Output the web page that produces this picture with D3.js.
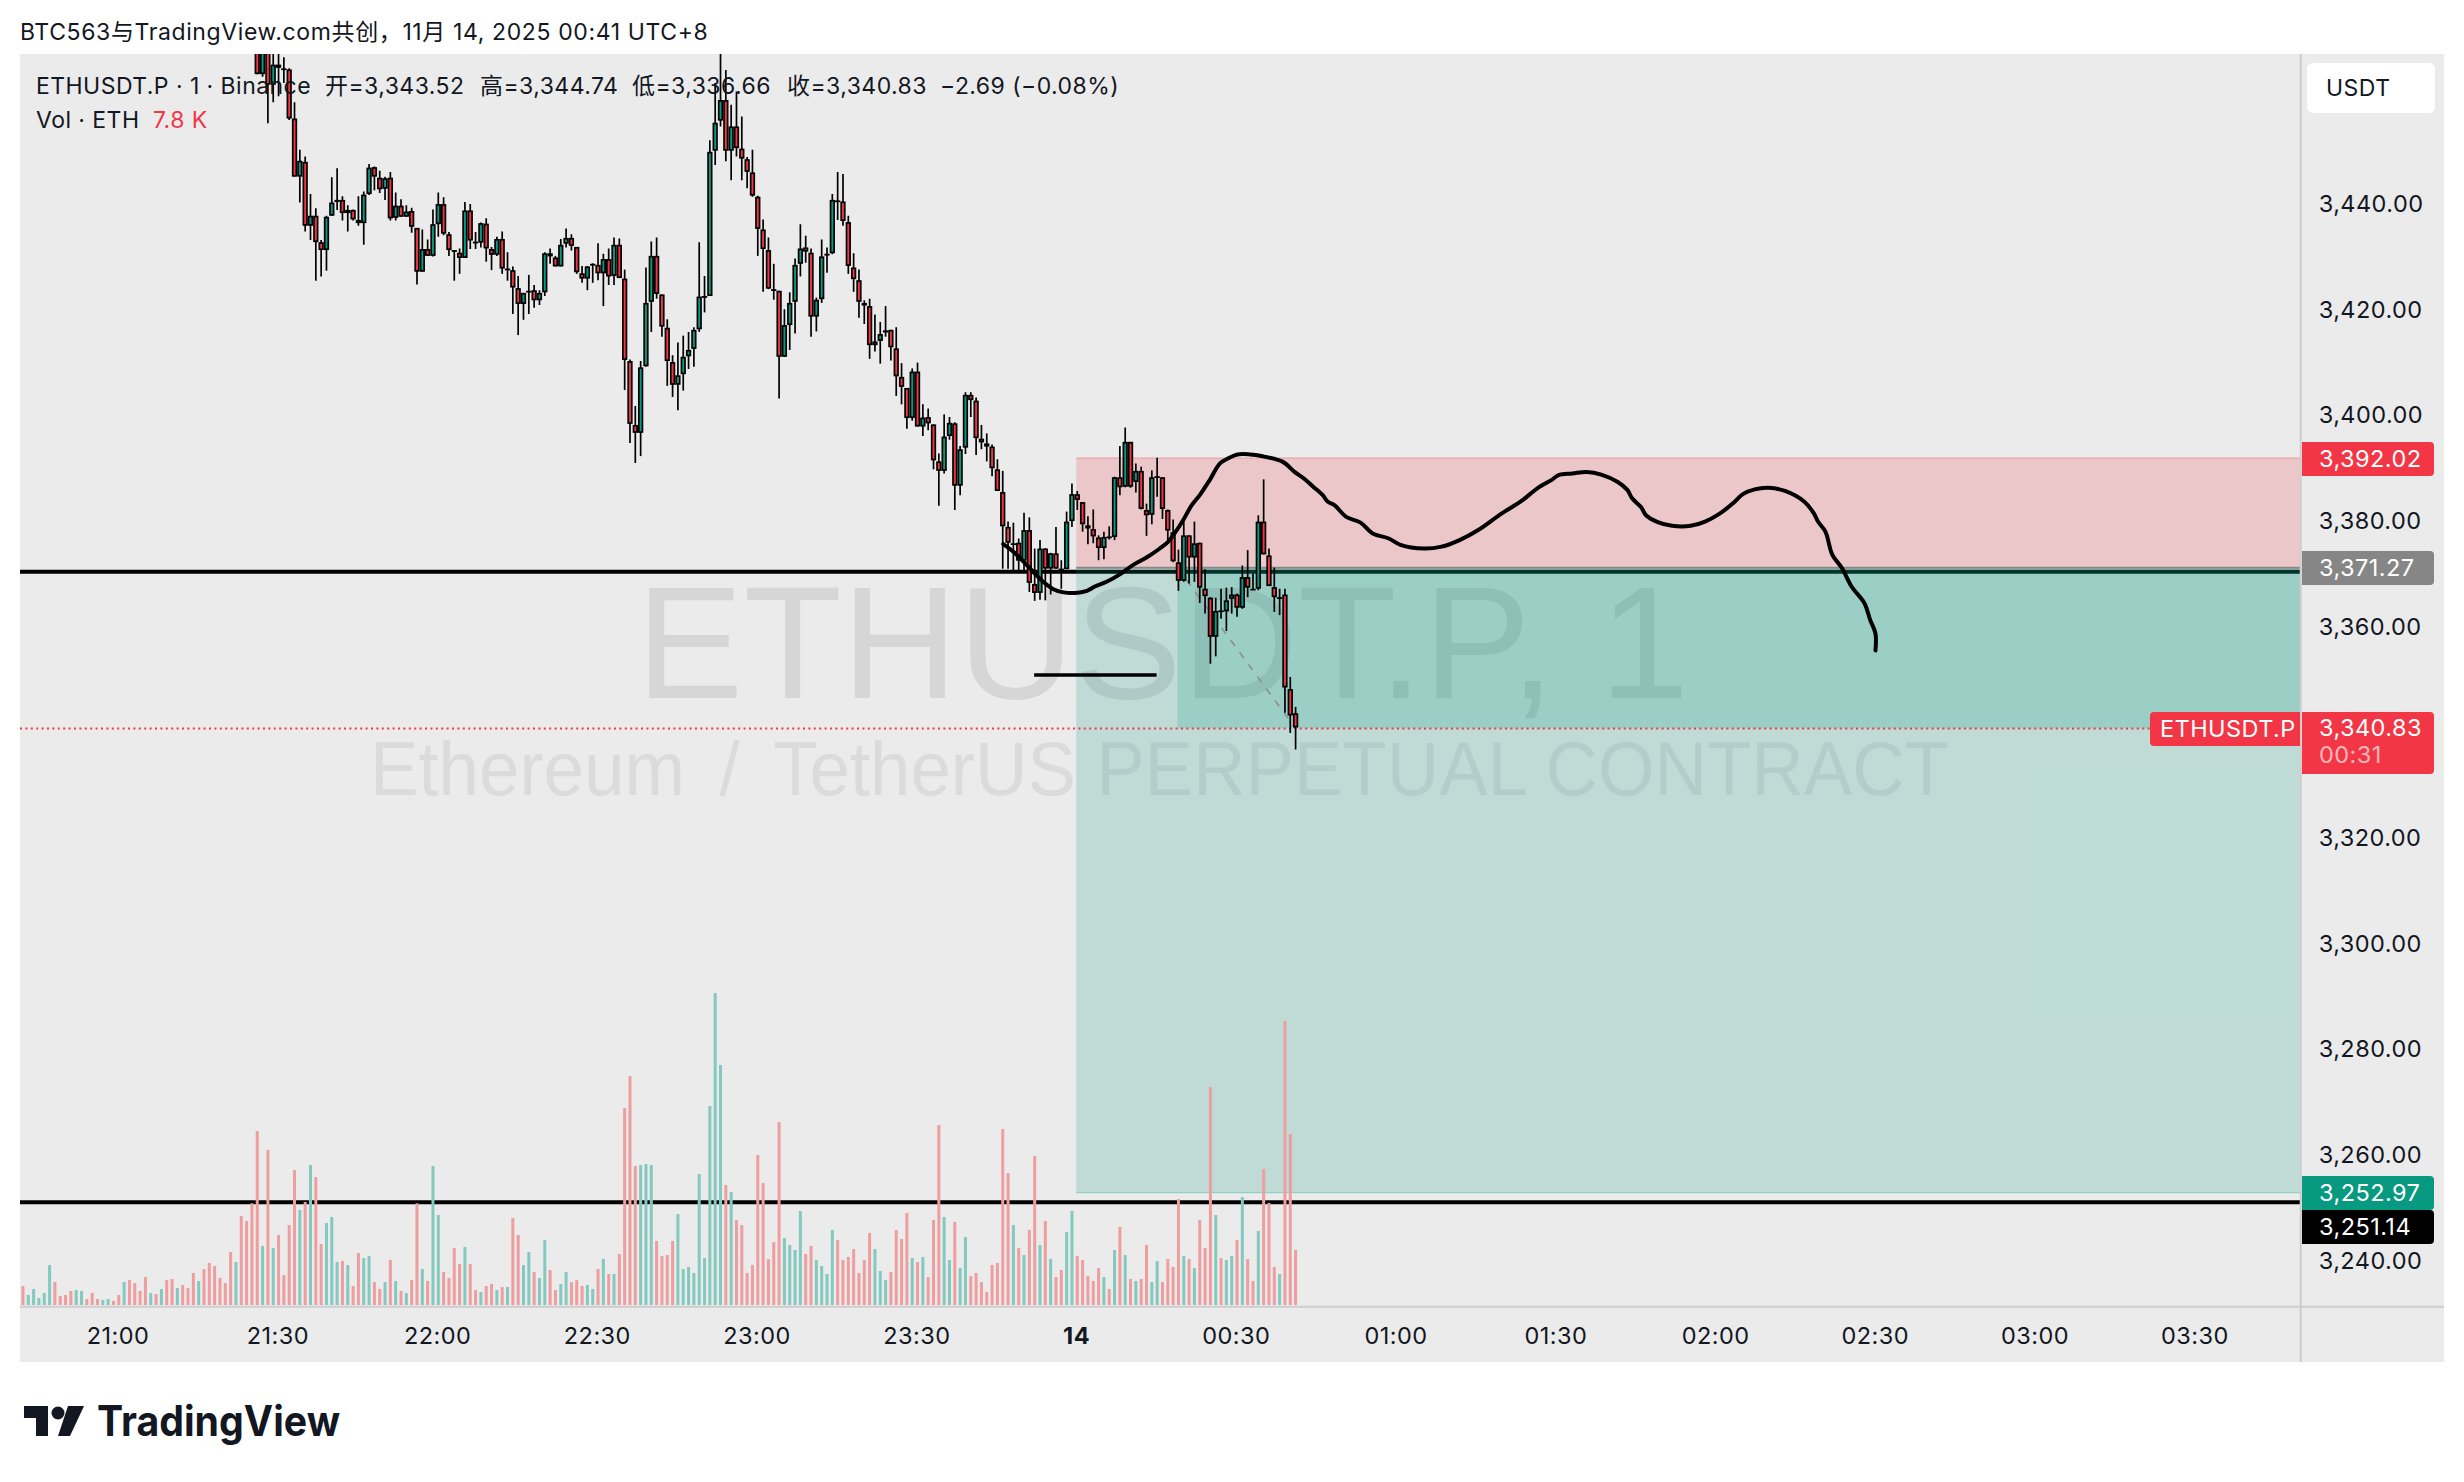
<!DOCTYPE html>
<html>
<head>
<meta charset="utf-8">
<script src="https://cdn.jsdelivr.net/npm/d3@7"></script>
<style>
  body { margin: 0; background: #fff; }
  text { font-family: Inter, "Noto Sans CJK SC", sans-serif; letter-spacing: 0.45px; }
</style>
</head>
<body>
<div id="drawing"></div>
<script>
const width = 2464;
const height = 1482;

// candles, one per minute, first one is 21:26
const candleStartMinute = 26; // minutes after 21:00
const opens = [
  3472,3464.5,3471,3462.5,3466.3,3465.6,3465.4,3456.1,3445.1,3447.9,
  3435.8,3437.7,3432.7,3431.2,3437.7,3440.3,3440.7,3438.2,3438.8,3436.9,
  3436.3,3441.8,3446.9,3444.9,3442.8,3444.9,3437.3,3439.6,3437.5,3438.6,
  3435.4,3427.1,3431.4,3430.1,3436.1,3439.9,3434.2,3431.2,3430.7,3429.7,
  3438.7,3432.8,3432.6,3436.2,3431.4,3430.3,3433.3,3427.7,3427.4,3424,
  3421,3423.5,3423.6,3421.7,3423.2,3430.6,3429.8,3428.1,3432.4,3433.5,
  3431.8,3426.8,3425.8,3428.6,3428.4,3426.8,3429.5,3426.3,3432.2,3425.8,
  3410.2,3398.1,3396.6,3409.2,3421.4,3430.1,3422.8,3416.5,3410,3405.7,
  3407.7,3411.1,3412.5,3416.2,3422.5,3422.5,3450,3455.7,3459.6,3450,
  3454.6,3450.4,3448.4,3445.9,3441.3,3435.1,3431.2,3423.8,3423.5,3411,
  3417,3421.4,3428.6,3431.7,3430.7,3418.6,3421.9,3430.5,3430.6,3440.6,
  3440.4,3436.5,3427.9,3425.5,3421.2,3420.6,3413.2,3414,3415.6,3416.1,
  3412.6,3407.2,3405.1,3399.4,3408.2,3397.8,3399.6,3398.2,3391.2,3389.4,
  3396,3398.4,3386.6,3393.8,3403.8,3402.7,3395.5,3394.6,3394,3389.7,
  3385.4,3378.8,3375.7,3375.8,3372.4,3378.2,3368,3366.3,3374.7,3370.9,
  3373.8,3370.9,3370.8,3379.9,3385,3383.5,3379.1,3378.4,3376.8,3374.8,
  3377,3376.9,3388.2,3386.4,3394.9,3387.3,3389.4,3382,3381.1,3388.4,
  3388.2,3382,3377.8,3372.1,3368.6,3377.2,3373,3375.8,3367.1,3365.4,
  3358,3363,3362.8,3365.2,3366,3363.5,3369.3,3367.1,3367.1,3379.8,
  3373.4,3367.4,3365.5,3366,3348.1,3343.52
];
const highs = [
  3474,3473,3473,3473,3472,3467.7,3465.6,3459.2,3450.2,3448.9,
  3441.8,3439.1,3433.1,3437.7,3445,3446.7,3441.4,3439.7,3438.9,3441.4,
  3442.3,3447.5,3447,3446.2,3445.1,3446,3442.1,3440.8,3439.7,3439.2,
  3435.4,3435.1,3433.2,3438.9,3442.1,3441.2,3434.6,3431.2,3431.5,3440.3,
  3439.9,3434.6,3436.4,3437.2,3431.8,3433.7,3434.7,3430.8,3428.1,3426.3,
  3423.1,3426.5,3424.6,3423.6,3430.8,3431.5,3430.1,3433.3,3435.3,3434.2,
  3431.8,3428.2,3428.2,3428.7,3432.5,3430.5,3431.5,3433.6,3433.4,3427.5,
  3410.5,3401.7,3410.2,3427.9,3432.8,3433.6,3422.8,3418.1,3411.3,3413.7,
  3415,3415.7,3416.6,3432.7,3426.3,3452,3462.8,3469,3465.3,3458.7,
  3461.2,3456.5,3448.8,3450.2,3441.5,3437,3433.6,3428.6,3423.5,3420,
  3423.2,3429.6,3436.1,3433.9,3431.5,3422.2,3433.2,3431.7,3441.8,3446,
  3445.6,3437.7,3430.6,3427.5,3421.7,3422,3419,3417.6,3420.6,3416.1,
  3416.6,3409.8,3405.1,3408.8,3409.9,3402,3401.2,3398.2,3392.7,3400.1,
  3399.6,3398.6,3394.1,3404.3,3404.3,3403.3,3398.1,3396.5,3394.4,3391.6,
  3389.4,3379.8,3379.6,3376.6,3381.5,3380.6,3374.7,3376.3,3374.8,3373.9,
  3378.8,3372.5,3381.7,3387,3385.6,3383.5,3380.8,3382.1,3377.2,3377.9,
  3378.9,3388.3,3394.1,3397.6,3394.9,3390.8,3390.2,3383.2,3389.5,3391.9,
  3388.2,3382.1,3380.2,3374.5,3379.8,3377.2,3379.8,3375.8,3370.8,3365.5,
  3365.4,3367.1,3367.3,3367.4,3366.2,3371.5,3374.4,3370,3381,3387.8,
  3374.7,3371.1,3367.1,3367.1,3350.4,3344.74
];
const lows = [
  3464.5,3464,3455.2,3459.2,3460.3,3462.8,3455.8,3445.1,3440.2,3434.7,
  3433.1,3425.4,3426.2,3427.3,3437.7,3438.8,3436.8,3434.7,3436.8,3435.8,
  3432.2,3441.6,3442.5,3442,3440.7,3436.8,3436.8,3437.5,3437.5,3434.5,
  3424.7,3427.1,3430.1,3430,3433.7,3434,3430.1,3425.4,3426.7,3429.7,
  3431.4,3431.4,3431.7,3429,3427.4,3430.1,3426.7,3425.4,3419.1,3415.1,
  3418,3419.1,3420.3,3420.8,3422.5,3428.6,3428.1,3428.1,3431.7,3431.1,
  3426.7,3425,3423.6,3425,3425.5,3420.6,3424.6,3424.6,3425.9,3404.7,
  3394.7,3390.9,3392.2,3409.1,3415.7,3422,3414.8,3405.5,3403.4,3400.9,
  3404.6,3408.7,3409.1,3415.7,3419.4,3422.5,3447.3,3454.6,3448,3444.4,
  3448.9,3444.4,3442.9,3441.3,3430.1,3423.3,3423.8,3421.8,3403.1,3411,
  3412.3,3415.4,3426.2,3428.8,3414.8,3415.8,3421.2,3426.9,3430.4,3436.9,
  3435.8,3426.7,3423.3,3418.4,3417.2,3410.6,3412,3409.7,3414.8,3410.3,
  3403.6,3402,3397.4,3398.9,3397.8,3396,3397.1,3389.7,3382.8,3388.9,
  3395.3,3382,3384.8,3392.6,3399.6,3392.4,3393.5,3391.2,3388.4,3385.6,
  3370.9,3370.9,3370.6,3370.5,3370.6,3366.5,3364.8,3365,3364.9,3366,
  3370.9,3367.1,3370.8,3378.8,3382,3377.9,3375.5,3375.7,3372.5,3372.7,
  3376.4,3376.3,3384.8,3386.3,3386.2,3385.3,3382.1,3377.1,3379.3,3384.5,
  3380.3,3376,3372.1,3366.7,3368.4,3368.1,3368.4,3364.4,3362.4,3352.9,
  3354.3,3361.4,3359.1,3362.4,3361.8,3363.3,3365.5,3366.9,3366.8,3373.6,
  3367.6,3362.7,3362.1,3343.6,3339.8,3336.66
];
const closes = [
  3464.5,3471,3462.5,3466.3,3465.7,3465.5,3456.1,3445.1,3448.1,3435.8,
  3437.7,3432.7,3431.2,3437.5,3440.2,3440.7,3438.2,3438.8,3437,3436.3,
  3441.7,3446.8,3445.1,3442.7,3444.8,3437.2,3439.6,3437.5,3438.5,3435.6,
  3427.1,3431.4,3430.1,3436.1,3439.9,3434.3,3431.2,3431.1,3429.7,3438.7,
  3433,3432.7,3436.3,3431.5,3430.3,3433.3,3427.7,3427.6,3424.1,3421,
  3423.1,3423.5,3421.7,3423.1,3430.6,3430,3428.1,3432.2,3433.5,3432,
  3427,3425.8,3428.1,3428.5,3426.8,3429.5,3426.2,3432.2,3425.9,3410.4,
  3398.3,3396.6,3409,3421.2,3430.1,3422.9,3416.7,3410.2,3405.7,3407.5,
  3411,3412.3,3416.1,3422.4,3422.5,3449.8,3455.3,3459.6,3450,3454.6,
  3450.5,3448.5,3446,3441.5,3435.2,3431.4,3423.9,3423.7,3411,3417,
  3421.2,3428.4,3431.5,3430.9,3418.6,3421.8,3430,3430.5,3440.7,3440.6,
  3436.7,3428.2,3425.7,3421.4,3420.7,3413.2,3413.9,3415.3,3416,3412.8,
  3407.3,3405.3,3399.4,3408.2,3397.8,3399.5,3398.4,3391.4,3389.4,3395.9,
  3398.5,3386.6,3393.5,3403.8,3402.8,3395.6,3394.8,3394,3389.9,3385.6,
  3378.9,3375.8,3375.6,3372.4,3378.2,3368.2,3366.3,3374.7,3370.9,3373.8,
  3370.9,3370.9,3379.8,3385,3383.9,3379.3,3378.5,3377,3374.8,3376.9,
  3377,3388.2,3386.3,3394.9,3386.4,3389.4,3382.2,3381,3388.2,3388.4,
  3382.2,3378.1,3372.3,3368.6,3377.2,3373,3375.7,3367.3,3365.7,3358,
  3362.9,3363,3364.9,3366,3363.5,3369.3,3367.3,3367.1,3379.8,3373.6,
  3367.6,3365.5,3365.5,3348.4,3343.1,3340.83
];

// volume in thousands of ETH, first bar is 20:42
const volumeStartMinute = -18;
const volumes = [
  2.69,1.42,2.27,0.99,1.70,5.67,3.26,1.28,1.42,1.99,
  2.13,1.99,0.85,1.70,0.85,0.71,0.85,0.57,1.42,3.26,
  3.55,3.12,1.99,3.97,1.70,1.56,2.27,3.55,3.69,2.41,
  2.84,2.41,4.54,3.40,5.10,5.96,5.53,3.83,3.12,7.52,
  6.10,12.62,11.91,14.42,24.67,8.37,21.98,8.08,9.93,4.25,
  11.34,19.14,13.47,14.61,19.85,18.15,8.65,11.63,12.48,6.10,
  6.24,5.67,2.69,7.37,6.66,6.95,3.26,2.27,3.26,6.38,
  3.40,1.99,1.70,3.55,14.42,5.10,3.40,19.71,12.76,4.68,
  3.83,8.08,5.81,8.22,5.81,2.13,1.84,2.69,2.98,2.13,
  2.55,2.55,12.34,9.93,5.67,7.52,4.68,3.83,9.22,4.96,
  2.13,2.98,4.68,3.26,3.55,2.69,2.84,2.27,5.10,6.52,
  4.40,4.40,7.23,27.93,32.47,19.71,19.85,19.99,19.85,9.08,
  6.95,7.09,9.08,12.90,5.10,5.39,4.54,18.58,
  6.66,28.22,44.24,34.03,17.02,16.02,12.05,11.34,4.54,5.67,
  21.27,17.30,6.52,8.93,25.95,9.50,8.51,7.80,13.33,7.23,
  8.37,6.38,5.53,4.40,10.64,9.22,6.38,6.81,7.94,4.54,
  6.38,10.21,7.94,4.82,3.55,4.68,10.64,9.36,13.05,6.66,
  6.10,6.81,3.97,12.05,25.52,12.48,6.38,11.77,5.25,9.64,
  4.11,4.54,3.26,1.84,5.67,5.96,24.96,18.72,11.34,8.08,
  7.09,10.64,21.13,8.51,11.91,6.52,3.97,4.96,10.35,13.33,
  6.95,6.38,4.11,3.40,5.25,3.97,2.27,7.80,11.06,7.09,
  3.69,3.40,3.69,8.51,3.26,6.24,3.26,6.52,5.39,15.03,
  6.95,6.52,5.25,12.05,8.08,30.91,12.76,6.66,6.38,6.95,
  9.22,15.31,6.52,3.40,10.49,19.28,14.46,5.39,4.40,40.27,
  24.25,7.80
];
// r = fell in that minute, g = rose
const volumeSides = (
  "rgggggrrrr" + "ggrrrggrrg" + "rrrrgrgrrg" + "rrrgrrrrrr" +
  "grrrrgrgrr" + "rrgrgrrggg" + "rgrrggrrgr" + "grgrrgrggr" +
  "rrrgrrgrrg" + "rgrrggrggr" + "rggrrrggrg" + "rgrrrrgggr" +
  "rrrggggg" +
  "ggggrgrrrr" + "rrrrrggggr" + "rggggrrrrr" + "rrgggrrrrg" +
  "rgrrrggrgg" + "rrrrrrrrgr" + "grrgrgrrgg" + "rrrrrgrgrg" +
  "rgrrggrrrr" + "grgrrrgrgg" + "rgrrgrrrgr" + "rr"
).split("");

const priceTicks = [3240,3260,3280,3300,3320,3340,3360,3380,3400,3420,3440];
const timeTickMinutes = [0,30,60,90,120,150,180,210,240,270,300,330,360,390];

// position tool and drawn lines
const stopPrice = 3392.02;
const entryPrice = 3371.27;
const lastPrice = 3340.83;
const targetPrice = 3252.97;
const lowerLinePrice = 3251.14;
const upperLinePrice = 3370.5;
const shortLinePrice = 3350.96;
const shortLineMinutes = [171.9, 194.9];
const positionStartMinute = 179.8;
const profitStartMinute = 198.8;
const lastMinute = 221;

const brushMinutes = [166.1,168,169.9,171.7,173.6,175.5,177.4,179.6,181.8,183.3,185.5,188,190.5,193,195.5,197.1,198.3,199.9,201.5,203,204.9,206.8,208.4,210.1,212.4,214.6,218.6,220.8,222.5,224.3,226.1,227,228.3,230.5,233.2,235.4,238.5,240.7,245.1,248.2,251.8,255.3,259.8,263.3,266.4,269.1,270.4,273,275.7,278.4,281.5,283.3,284.2,285.9,286.8,289,291.7,295.2,297.9,300.5,303.2,305,307.2,309.8,312.9,316.5,318.3,319.1,320.5,321.8,323.6,325.4,327.8,328.9,329.9,329.9];
const brushPrices = [3375.75,3374.3,3372.4,3370.5,3368.6,3367.2,3366.6,3366.5,3366.9,3367.7,3368.6,3370,3371.8,3373.2,3374.9,3376.2,3377.8,3380.3,3383.1,3385,3387.9,3391,3392,3392.7,3392.7,3392.4,3391.3,3389.4,3388.2,3386.6,3385,3383.8,3383.1,3380.9,3379.8,3377.8,3376.8,3375.6,3374.9,3375.2,3376.5,3378.4,3381.6,3383.8,3386.3,3387.9,3388.8,3389.1,3389.4,3388.9,3387.5,3386,3384.4,3382.7,3381.2,3379.9,3379.2,3379.2,3380,3381.4,3383.5,3385.2,3386.1,3386.4,3385.8,3383.8,3381.6,3380,3378.1,3373.7,3371.2,3367.7,3364.6,3361.4,3358.8,3355.6];

const RED = "#F23645";
const GREEN = "#089981";
const INK = "#131722";

const pane = {left: 20, top: 54, right: 2300.7, bottom: 1306.7, axisRight: 2444, footer: 1362};

const baseTime = new Date(2025, 10, 13, 21, 0);
const minuteToDate = (m) => d3.timeSecond.offset(baseTime, Math.round(m * 60));

const xScale = d3.scaleTime()
  .domain([minuteToDate(0), minuteToDate(390)])
  .range([118.8, 2195.5]);
const yScale = d3.scaleLinear()
  .domain([3240, 3400])
  .range([1261.2, 415.9]);
const volumeScale = d3.scaleLinear()
  .domain([0, 50])
  .range([1305, 952.4]);

const xm = (m) => xScale(minuteToDate(m));

const svg = d3.select("#drawing").append("svg")
  .attr("width", width)
  .attr("height", height)
  .style("display", "block")
  .style("background", "#fff");

svg.append("defs").append("clipPath").attr("id", "paneClip")
  .append("rect")
  .attr("x", pane.left).attr("y", pane.top)
  .attr("width", pane.right - pane.left)
  .attr("height", pane.bottom - pane.top);

svg.append("rect")
  .attr("x", pane.left).attr("y", pane.top)
  .attr("width", pane.axisRight - pane.left)
  .attr("height", pane.footer - pane.top)
  .attr("fill", "#EBEBEB");

const chart = svg.append("g").attr("clip-path", "url(#paneClip)");

// watermark
chart.append("text")
  .attr("x", 636).attr("y", 698)
  .attr("textLength", 1053).attr("lengthAdjust", "spacingAndGlyphs")
  .style("font-family", "'Liberation Sans'")
  .style("font-size", "160px")
  .style("letter-spacing", 0)
  .attr("fill", "#D6D6D7")
  .text("ETHUSDT.P, 1");
chart.append("text")
  .attr("x", 370).attr("y", 795)
  .attr("textLength", 1579).attr("lengthAdjust", "spacingAndGlyphs")
  .style("font-family", "'Liberation Sans'")
  .style("font-size", "76px")
  .style("letter-spacing", 0)
  .attr("fill", "#DBDBDC")
  .text("Ethereum \u2009/\u2009 TetherUS PERPETUAL CONTRACT");

// horizontal black lines sit under the tinted zones
[upperLinePrice, lowerLinePrice].forEach((p) => {
  chart.append("line")
    .attr("x1", pane.left).attr("x2", pane.right)
    .attr("y1", yScale(p)).attr("y2", yScale(p))
    .attr("stroke", "#000").attr("stroke-width", 4);
});

const zone = (m, top, bottom, color) => {
  chart.append("rect")
    .attr("x", xm(m)).attr("y", yScale(top))
    .attr("width", pane.right - xm(m))
    .attr("height", yScale(bottom) - yScale(top))
    .attr("fill", color);
};
zone(positionStartMinute, stopPrice, entryPrice, "rgba(242,54,69,0.2)");
zone(positionStartMinute, entryPrice, targetPrice, "rgba(8,153,129,0.19)");
zone(profitStartMinute, entryPrice, lastPrice, "rgba(8,153,129,0.2)");

// zone edges
chart.append("line")
  .attr("x1", xm(positionStartMinute)).attr("x2", pane.right)
  .attr("y1", yScale(stopPrice)).attr("y2", yScale(stopPrice))
  .attr("stroke", "#E9A4A9").attr("stroke-width", 1.2);
chart.append("line")
  .attr("x1", xm(positionStartMinute)).attr("x2", pane.right)
  .attr("y1", yScale(entryPrice)).attr("y2", yScale(entryPrice))
  .attr("stroke", "#888").attr("stroke-width", 2);
chart.append("line")
  .attr("x1", xm(positionStartMinute)).attr("x2", pane.right)
  .attr("y1", yScale(targetPrice)).attr("y2", yScale(targetPrice))
  .attr("stroke", "#8FD1C5").attr("stroke-width", 1.2);

// entry to last price, dashed
chart.append("line")
  .attr("x1", xm(profitStartMinute)).attr("y1", yScale(entryPrice))
  .attr("x2", xm(lastMinute)).attr("y2", yScale(lastPrice))
  .attr("stroke", "#8D8D8D").attr("stroke-width", 1.6)
  .attr("stroke-dasharray", "7 8");

// last price line
chart.append("line")
  .attr("x1", pane.left).attr("x2", 2150)
  .attr("y1", yScale(lastPrice)).attr("y2", yScale(lastPrice))
  .attr("stroke", RED).attr("stroke-width", 2)
  .attr("stroke-dasharray", "2 3.4");

// volume
chart.append("g").selectAll("rect")
  .data(volumes)
  .join("rect")
  .attr("x", (d, i) => xm(volumeStartMinute + i) - 1.5)
  .attr("y", (d) => volumeScale(d))
  .attr("width", 3)
  .attr("height", (d) => volumeScale(0) - volumeScale(d))
  .attr("fill", (d, i) => volumeSides[i] === "r" ? "#EE9E9F" : "#84C9BF");

// candles
const candles = opens.map((o, i) => ({
  minute: candleStartMinute + i, o, h: highs[i], l: lows[i], c: closes[i]
}));
const candleWidth = 3.6;
const candleStroke = 1.7;
const candleG = chart.append("g").attr("transform", "translate(0,-1)");
candleG.selectAll("line")
  .data(candles)
  .join("line")
  .attr("x1", (d) => xm(d.minute)).attr("x2", (d) => xm(d.minute))
  .attr("y1", (d) => yScale(d.h)).attr("y2", (d) => yScale(d.l))
  .attr("stroke", "#000").attr("stroke-width", candleStroke);
candleG.selectAll("rect")
  .data(candles)
  .join("rect")
  .attr("x", (d) => xm(d.minute) - candleWidth / 2)
  .attr("y", (d) => yScale(Math.max(d.o, d.c)) + candleStroke / 2)
  .attr("width", candleWidth)
  .attr("height", (d) => Math.max(0.1, yScale(Math.min(d.o, d.c)) - yScale(Math.max(d.o, d.c)) - candleStroke))
  .attr("fill", (d) => d.c < d.o ? RED : GREEN)
  .attr("stroke", "#000")
  .attr("stroke-width", candleStroke);

// hand drawn lines
chart.append("line")
  .attr("x1", xm(shortLineMinutes[0])).attr("x2", xm(shortLineMinutes[1]))
  .attr("y1", yScale(shortLinePrice)).attr("y2", yScale(shortLinePrice))
  .attr("stroke", "#000").attr("stroke-width", 3.5);

const brushLine = d3.line()
  .x((d) => xm(d))
  .y((d, i) => yScale(brushPrices[i]))
  .curve(d3.curveCatmullRom);
chart.append("path")
  .attr("d", brushLine(brushMinutes))
  .attr("fill", "none")
  .attr("stroke", "#000")
  .attr("stroke-width", 4)
  .attr("stroke-linecap", "round")
  .attr("stroke-linejoin", "round");

// axis borders
svg.append("line")
  .attr("x1", pane.right).attr("x2", pane.right)
  .attr("y1", pane.top).attr("y2", pane.footer)
  .attr("stroke", "#CDCDCD").attr("stroke-width", 2);
svg.append("line")
  .attr("x1", pane.left).attr("x2", pane.axisRight)
  .attr("y1", pane.bottom).attr("y2", pane.bottom)
  .attr("stroke", "#CDCDCD").attr("stroke-width", 2);

// price axis
const priceAxis = svg.append("g")
  .attr("transform", `translate(${pane.right},-0.5)`)
  .call(d3.axisRight(yScale).tickValues(priceTicks).tickFormat(d3.format(",.2f")).tickSize(0).tickPadding(18));
priceAxis.select(".domain").remove();
priceAxis.selectAll("text")
  .style("font-family", "Inter")
  .style("font-size", "23.5px")
  .attr("fill", INK);

// time axis
const timeAxis = svg.append("g")
  .attr("transform", `translate(-1.2,${pane.bottom + 30})`)
  .call(d3.axisBottom(xScale)
    .tickValues(timeTickMinutes.map(minuteToDate))
    .tickFormat((d) => d3.timeFormat("%H:%M")(d) === "00:00" ? "14" : d3.timeFormat("%H:%M")(d))
    .tickSize(0).tickPadding(0));
timeAxis.select(".domain").remove();
timeAxis.selectAll("text")
  .attr("dy", "0.32em")
  .style("font-family", "Inter")
  .style("font-size", "23.5px")
  .style("font-weight", (d) => d3.timeFormat("%H:%M")(d) === "00:00" ? 700 : 400)
  .attr("fill", INK);

// price tags on the axis
const tagX = 2302;
const tagWidth = 132;
const tagPath = (x, y, w, h, r) =>
  `M${x},${y}H${x + w - r}Q${x + w},${y} ${x + w},${y + r}V${y + h - r}Q${x + w},${y + h} ${x + w - r},${y + h}H${x}Z`;
const priceTags = [
  {label: "3,392.02", center: 459, fill: RED},
  {label: "3,371.27", center: 568, fill: "#868686"},
  {label: "3,252.97", center: 1193, fill: "#089981"},
  {label: "3,251.14", center: 1227, fill: "#000000"}
];
priceTags.forEach((t) => {
  svg.append("path").attr("d", tagPath(tagX, t.center - 17, tagWidth, 34, 4)).attr("fill", t.fill);
  svg.append("text").attr("x", 2319).attr("y", t.center).attr("dy", "0.36em")
    .style("font-size", "23.5px").attr("fill", "#fff").text(t.label);
});
svg.append("path").attr("d", tagPath(tagX, 712, tagWidth, 62, 4)).attr("fill", RED);
svg.append("text").attr("x", 2319).attr("y", 728).attr("dy", "0.36em")
  .style("font-size", "23.5px").attr("fill", "#fff").text("3,340.83");
svg.append("text").attr("x", 2319).attr("y", 755).attr("dy", "0.36em")
  .style("font-size", "23.5px").attr("fill", "#fff").attr("fill-opacity", 0.65).text("00:31");
svg.append("rect").attr("x", 2150).attr("y", 712).attr("width", 150).attr("height", 34).attr("rx", 4).attr("fill", RED);
svg.append("rect").attr("x", 2290).attr("y", 712).attr("width", 10).attr("height", 34).attr("fill", RED);
svg.append("text").attr("x", 2160).attr("y", 729).attr("dy", "0.36em")
  .style("font-size", "23.5px").attr("fill", "#fff").text("ETHUSDT.P");

// currency button
svg.append("rect").attr("x", 2307).attr("y", 63).attr("width", 128).attr("height", 50).attr("rx", 6).attr("fill", "#fff");
svg.append("text").attr("x", 2326).attr("y", 88).attr("dy", "0.36em")
  .style("font-size", "23px").attr("fill", INK).text("USDT");

// header
svg.append("text").attr("x", 20).attr("y", 32).attr("dy", "0.36em")
  .style("font-size", "23px").style("letter-spacing", "0.62px").attr("fill", INK)
  .text("BTC563与TradingView.com共创，11月 14, 2025 00:41 UTC+8");

// legend
const legendItems = [
  {x: 36, text: "ETHUSDT.P · 1 · Binance"},
  {x: 325, text: "开=3,343.52"},
  {x: 480, text: "高=3,344.74"},
  {x: 632, text: "低=3,336.66"},
  {x: 787, text: "收=3,340.83"},
  {x: 940, text: "−2.69 (−0.08%)"}
];
legendItems.forEach((d) => {
  svg.append("text").attr("x", d.x).attr("y", 85.5).attr("dy", "0.36em")
    .style("font-size", "23px").attr("fill", INK).text(d.text);
});
svg.append("text").attr("x", 36).attr("y", 119.5).attr("dy", "0.36em")
  .style("font-size", "23px").attr("fill", INK).text("Vol · ETH");
svg.append("text").attr("x", 153).attr("y", 119.5).attr("dy", "0.36em")
  .style("font-size", "23px").attr("fill", RED).text("7.8 K");

// logo
const logo = svg.append("g").attr("fill", INK);
logo.append("path").attr("d", "M24,1406H48V1436H36V1418H24Z");
logo.append("circle").attr("cx", 58).attr("cy", 1413).attr("r", 6.5);
logo.append("path").attr("d", "M68,1406H84L70,1436H58Z");
logo.append("text").attr("x", 97).attr("y", 1436)
  .attr("textLength", 243).attr("lengthAdjust", "spacingAndGlyphs")
  .style("font-size", "42px").style("font-weight", 700).style("letter-spacing", 0).text("TradingView");
</script>
</body>
</html>
